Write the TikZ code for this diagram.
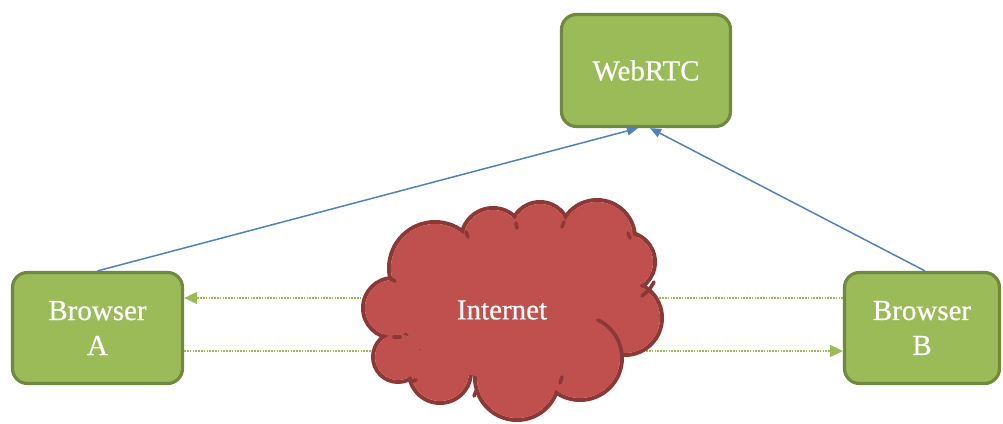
\documentclass[tikz,border=0pt]{standalone}
\usepackage{fontspec}
\setmainfont{Liberation Serif}[FakeBold=0.6]
\usetikzlibrary{arrows.meta,calc}
\definecolor{boxgreen}{HTML}{9BBB59}
\definecolor{boxedge}{HTML}{71893F}
\definecolor{cloudred}{HTML}{C0504D}
\definecolor{cloudedge}{HTML}{8C3836}
\definecolor{linkblue}{HTML}{4F81BD}
\begin{document}
\begin{tikzpicture}[x=1pt,y=-1pt,
  box/.style={draw=boxedge, line width=3.2pt, fill=boxgreen, rounded corners=15pt,
    text=white, font=\fontsize{29}{35}\selectfont, align=center, inner sep=0pt},
  signal/.style={draw=linkblue, line width=1.5pt, -{Triangle[length=11pt,width=9pt]}},
  peer/.style={draw=boxgreen, line width=1.6pt, dash pattern=on 1.6pt off 1.2pt},
  peertip/.style={-{Triangle[length=13pt,width=12pt]}},
  puff/.style={draw=cloudedge, line width=4pt},
  crease/.style={draw=cloudedge, line width=3.6pt, line cap=round},
  label/.style={text=white, font=\fontsize{29}{35}\selectfont}]
\useasboundingbox (0,0) rectangle (1003,423);

% boxes
\node[box, minimum width=169pt, minimum height=112pt] (rtc) at (646,70.5) {WebRTC};
\node[box, minimum width=170pt, minimum height=111pt] (a) at (97.5,328) {Browser\\A};
\node[box, minimum width=155pt, minimum height=111pt] (b) at (922,328) {Browser\\B};

% peer-to-peer media paths (behind the cloud)
\draw[peer, peertip] ([yshift=30pt]b.west) -- ([yshift=30pt]a.east);
\draw[peer, peertip] ([yshift=-23pt]a.east) -- ([yshift=-23pt]b.west);

% signalling paths
\draw[signal] (a.north) -- ([xshift=-8pt]rtc.south);
\draw[signal] ([xshift=3pt]b.north) -- ([xshift=4pt]rtc.south);

% cloud: outline of the union of puffs
\def\puffs{435/268/46, 493/240/32, 540/232/30, 597/238/38, 625/262/30,
  625/318/37, 580/358/42, 517/378/42, 440/372/31, 398/357/25, 393/308/30}
\foreach \cx/\cy/\r in \puffs
  \draw[puff] (\cx,\cy) circle[radius=\r];
\foreach \cx/\cy/\r in \puffs
  \fill[cloudred] (\cx,\cy) circle[radius=\r-2];
\fill[cloudred] (512,308) ellipse[x radius=112, y radius=72];

% creases inside the cloud
\draw[crease] ($(580,358)+(-65:42)$) arc[start angle=-65, end angle=-2, radius=42];
\draw[crease] (654,282) .. controls (650,289) .. (642,296);
\draw[crease] (466,232) -- (468,237);
\draw[crease] (516,223) -- (517,228);
\draw[crease] (564,222) -- (562,227);
\draw[crease] (628,233) -- (630,238);
\draw[crease] (560,383) -- (562,377);
\draw[crease] (474,396) -- (476,391);
\draw[crease] (411,382) -- (416,380);
\draw[crease] (394,337) -- (400,337);
\draw[crease] (391,279) -- (395,281);

\node[label] (net) at (502,310) {Internet};
\end{tikzpicture}
\end{document}
